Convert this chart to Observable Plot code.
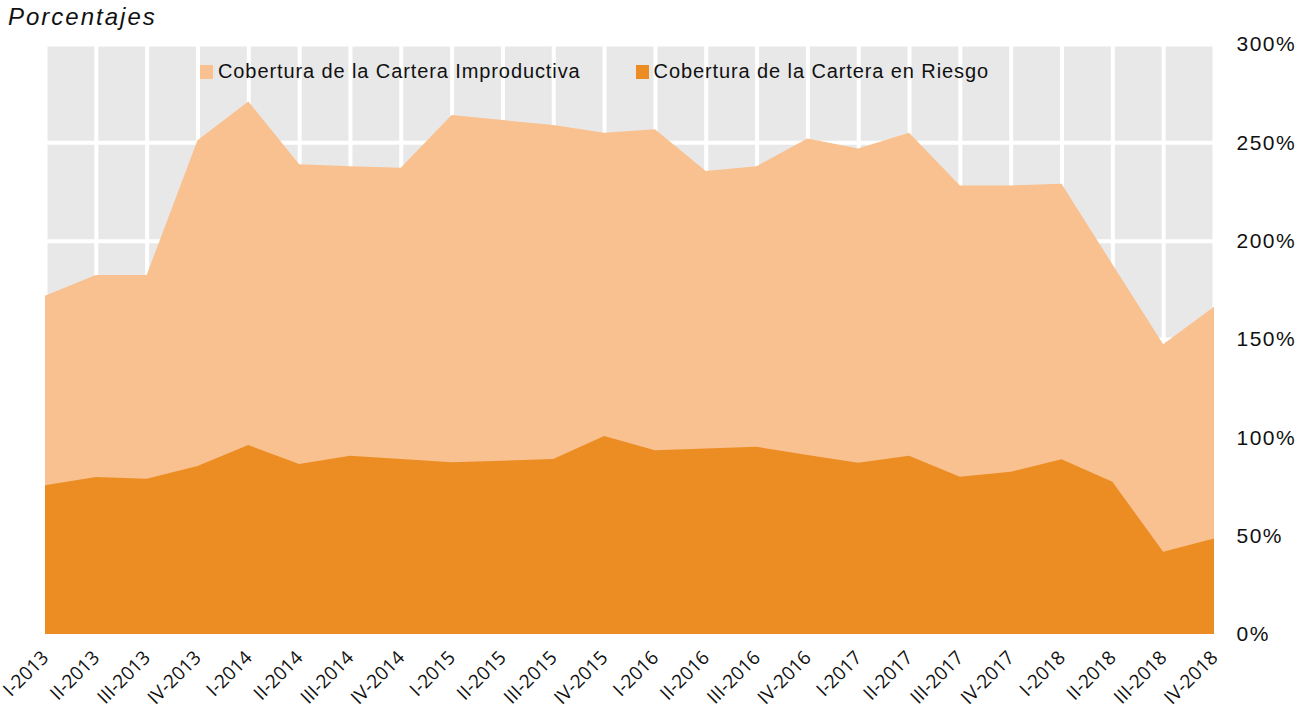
<!DOCTYPE html>
<html><head><meta charset="utf-8">
<script src="https://cdn.jsdelivr.net/npm/d3@7"></script>
<script src="https://cdn.jsdelivr.net/npm/@observablehq/plot@0.6"></script>
<style>
body{margin:0;background:#fff;font-family:"Liberation Sans",Arial,sans-serif;}
#wrap{position:relative;width:1306px;height:719px;overflow:hidden;}
#title{height:14px;position:relative;}
#title span{position:absolute;left:8px;top:3px;font-style:italic;font-size:24px;letter-spacing:2px;color:#111;line-height:28px;white-space:nowrap;}
#legend{position:absolute;top:60px;left:200px;font-size:20px;letter-spacing:0.9px;color:#111;display:flex;align-items:center;}
#legend .sw{display:inline-block;width:13px;height:14px;margin-right:5px;}
#legend .item{display:flex;align-items:center;}
</style></head>
<body>
<div id="wrap">
<div id="title"><span>Porcentajes</span></div>
<div id="chart"></div>
<div id="legend"></div>
</div>
<script>
const quarters = ["I-2013","II-2013","III-2013","IV-2013","I-2014","II-2014","III-2014","IV-2014",
  "I-2015","II-2015","III-2015","IV-2015","I-2016","II-2016","III-2016","IV-2016",
  "I-2017","II-2017","III-2017","IV-2017","I-2018","II-2018","III-2018","IV-2018"];
const improductiva = [172.0,182.5,182.5,251.1,270.8,238.9,237.9,237.1,
  263.9,261.3,258.8,254.9,256.6,235.4,237.9,252.0,
  246.9,254.9,228.1,228.1,228.9,188.0,147.3,166.4];
const riesgo = [75.6,79.8,79.0,85.4,96.1,86.4,90.6,89.0,
  87.3,88.1,89.0,100.7,93.4,94.3,95.2,91.0,
  87.1,90.6,80.0,82.5,88.8,77.4,41.8,48.6];
const yTicks = [0,50,100,150,200,250,300];
const seriesNames = ["Cobertura de la Cartera Improductiva","Cobertura de la Cartera en Riesgo"];
const colors = ["#f9c090","#eb8d23"];

const idx = quarters.map((q,i)=>i);
const data = quarters.map((q,i)=>({i, imp: improductiva[i], rie: riesgo[i]}));

const chart = Plot.plot({
  width:1306, height:705,
  marginTop:30, marginBottom:85, marginLeft:45, marginRight:92,
  style:{fontFamily:"'Liberation Sans', Arial, sans-serif", background:"white", color:"#111", overflow:"visible"},
  x:{type:"linear", domain:[0, quarters.length-1], label:null},
  y:{domain:[0,300], label:null},
  marks:[
    Plot.frame({fill:"#e8e8e8", stroke:"none"}),
    Plot.ruleX(idx,{x:d=>d, stroke:"white", strokeWidth:4}),
    Plot.ruleY(yTicks,{y:d=>d, stroke:"white", strokeWidth:4}),
    Plot.areaY(data,{x:"i", y:"imp", fill:colors[0]}),
    Plot.areaY(data,{x:"i", y:"rie", fill:colors[1]}),
    Plot.axisY({anchor:"right", ticks:yTicks, tickFormat:d=>d+"%", tickSize:0, tickPadding:22, fontSize:21, label:null}),
    Plot.axisX({ticks:idx, tickFormat:i=>quarters[i], tickRotate:-45, tickSize:0, tickPadding:20, fontSize:19, fontFamily:"'Open Sans', sans-serif", label:null})
  ]
});
document.getElementById("chart").appendChild(chart);
d3.select(chart).selectAll('g[aria-label="y-axis tick label"]').style("letter-spacing","1.5px");

const leg = d3.select("#legend");
seriesNames.forEach((n,i)=>{
  const it = leg.append("div").attr("class","item").style("margin-right", i===0 ? "55px" : "0");
  it.append("span").attr("class","sw").style("background", colors[i]);
  it.append("span").text(n);
});
</script>
</body></html>
